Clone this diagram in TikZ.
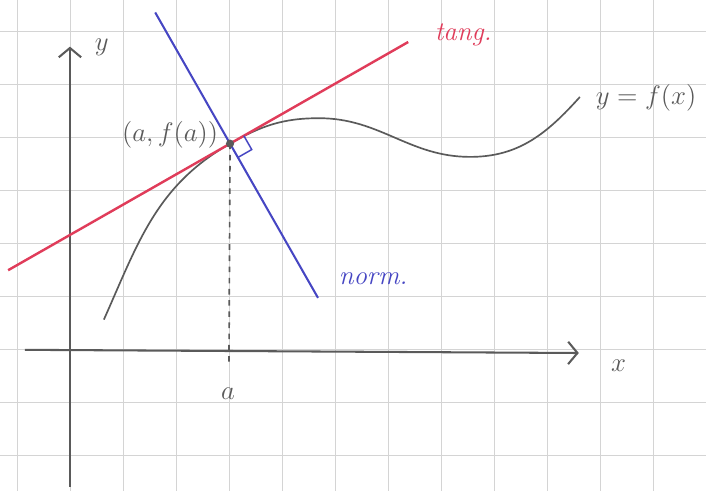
\documentclass[tikz,border=0pt]{standalone}
\usepackage{xcolor}
\usepackage{tikz}
\usetikzlibrary{arrows.meta,calc}
\definecolor{PenRed}{HTML}{E03C5A}
\definecolor{PenBlue}{HTML}{4646C3}
\definecolor{Pencil}{HTML}{5A5A5A}
\definecolor{GridGray}{HTML}{D4D4D4}
\tikzset{
  pencil/.style={color=Pencil,line width=0.9pt},
  axisline/.style={pencil,line width=1.1pt,-{Straight Barb[length=5pt,width=12pt]}},
  handlbl/.style={font=\Large,text=Pencil}}
\begin{document}
\begin{tikzpicture}
      \useasboundingbox (-1.32,-2.66) rectangle (12.0,6.6);
      \fill[white] (-1.32,-2.66) rectangle (12.0,6.6);
      \draw[GridGray,line width=0.4pt] (-1.32,-2.66) grid (12.0,6.6);
      \coordinate (P) at (3.02,3.89);
      \draw[axisline] (-0.85,0) -- (9.6,-0.06);
      \draw[axisline] (0,-2.58) -- (0,5.72);
      \node[handlbl] (xlbl) at (10.35,-0.3) {$x$};
      \node[handlbl] (ylbl) at (0.6,5.7) {$y$};
      \draw[pencil,dashed] (P) -- (3.0,-0.25);
      \node[handlbl] (albl) at (2.98,-0.82) {$a$};
      \draw[pencil] (0.64,0.57) to[out=66,in=209.7] (P)
        to[out=29.7,in=180] (4.7,4.37) to[out=0,in=180] (7.55,3.64)
        to[out=0,in=228] (9.62,4.77);
      \draw[PenRed,line width=1.3pt] ($(P)+(209.7:4.82)$) -- ($(P)+(29.7:3.87)$);
      \draw[PenBlue,line width=1.1pt] ($(P)+(119.7:2.85)$) -- ($(P)+(-60.3:3.35)$);
      \draw[PenBlue,line width=0.8pt] ($(P)+(29.7:.3)$) -- ++(-60.3:.3) -- ($(P)+(-60.3:.3)$);
      \fill[Pencil] (P) circle (2.2pt);
      \node[handlbl,anchor=east] (plbl) at (2.92,4.05) {$(a,f(a))$};
      \node[handlbl,anchor=west] (flbl) at (9.8,4.75) {$y=f(x)$};
      \node[font=\Large\itshape,text=PenRed] (tlbl) at (7.42,5.94) {tang.};
      \node[font=\Large\itshape,text=PenBlue] (nlbl) at (5.72,1.35) {norm.};
    \end{tikzpicture}
\end{document}
